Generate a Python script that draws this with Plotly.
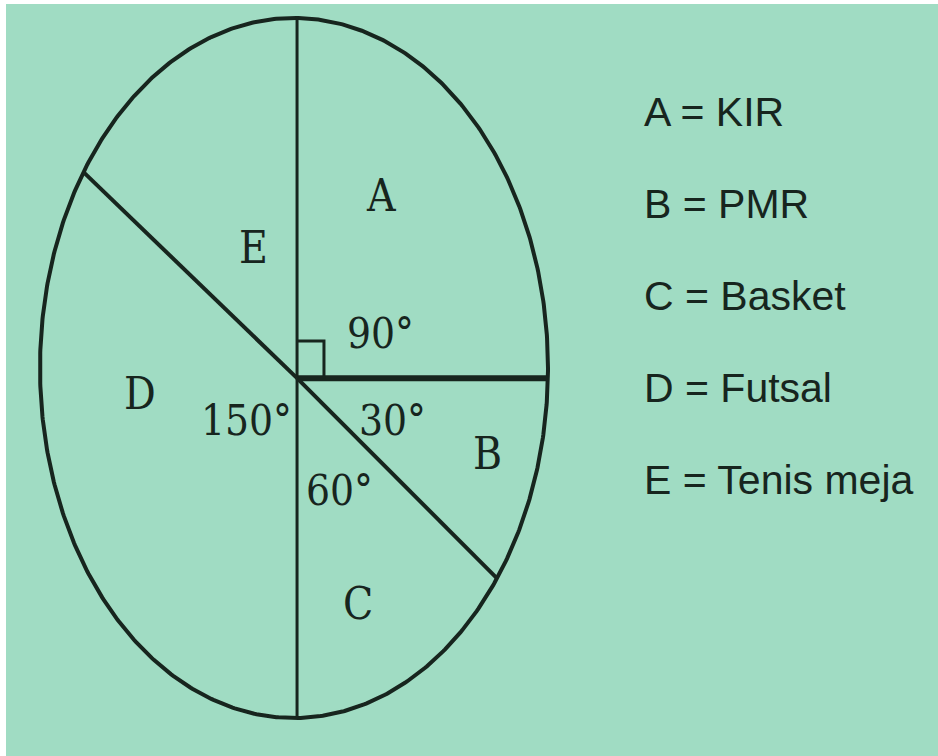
import numpy as np
import plotly.graph_objects as go

# ---------------- data ----------------
categories = ["A", "B", "C", "D", "E"]
activities = ["KIR", "PMR", "Basket", "Futsal", "Tenis meja"]
angle_labels = ["90°", "30°", "60°", "150°", ""]
# sweep of each slice as it is drawn in the picture (clockwise, starting at 12 o'clock)
drawn_sweep_deg = [90, 36, 54, 125, 55]
start_deg = 90

# ---------------- styling / layout ----------------
BG = "#a0dcc3"
INK = "#17251e"
W, H = 938, 756
ML, MT = 6, 4                       # thin white frame at left / top
# ellipse geometry in pixels (the unit circle of the data space)
ECX, ECY, RX, RY = 294, 368, 254, 350
# the point where the slice lines meet, relative to ellipse centre (unit space)
centre = np.array([0.012, -0.029])

x_range = [-(ECX - ML) / RX, (W - ECX) / RX]
y_range = [-(H - ECY) / RY, (ECY - MT) / RY]

# label placement: (angle in degrees, radius as fraction of ellipse)
letter_pos = [(55, 0.60), (-17.7, 0.80), (-69.4, 0.72), (186.8, 0.61), (114.6, 0.38)]
angle_label_pos = [(16.4, 0.353), (-20.9, 0.417), (-62.6, 0.393), (218.9, 0.238), None]
line_widths = [3, 6, 4, 3, 4]

fig = go.Figure()

# outline (ellipse via unequal axis scaling)
t = np.linspace(0, 2 * np.pi, 721)
fig.add_trace(go.Scatter(x=np.cos(t), y=np.sin(t), mode="lines",
                         line=dict(color=INK, width=4), hoverinfo="skip",
                         showlegend=False))

# slice boundaries
bounds = start_deg - np.concatenate([[0], np.cumsum(drawn_sweep_deg)])
for b, lw in zip(bounds[:-1], line_widths):
    d = np.array([np.cos(np.radians(b)), np.sin(np.radians(b))])
    cd = centre @ d
    tt = -cd + np.sqrt(cd ** 2 - (centre @ centre - 1))
    end = centre + tt * d
    fig.add_trace(go.Scatter(x=[centre[0], end[0]], y=[centre[1], end[1]],
                             mode="lines", line=dict(color=INK, width=lw),
                             hoverinfo="skip", showlegend=False))

# right-angle marker in slice A
s = 0.106
fig.add_trace(go.Scatter(x=[centre[0], centre[0] + s, centre[0] + s],
                         y=[centre[1] + s, centre[1] + s, centre[1]],
                         mode="lines", line=dict(color=INK, width=3),
                         hoverinfo="skip", showlegend=False))

serif = "DejaVu Serif Condensed, Liberation Serif, serif"
sans = "Liberation Sans, Arial, sans-serif"

annotations = []
for cat, (a, r) in zip(categories, letter_pos):
    annotations.append(dict(x=r * np.cos(np.radians(a)), y=r * np.sin(np.radians(a)),
                            xref="x", yref="y", text=cat, showarrow=False,
                            font=dict(family=serif, size=44, color=INK)))
for lab, p in zip(angle_labels, angle_label_pos):
    if not lab or p is None:
        continue
    a, r = p
    annotations.append(dict(x=r * np.cos(np.radians(a)), y=r * np.sin(np.radians(a)),
                            xref="x", yref="y", text=lab, showarrow=False,
                            font=dict(family=serif, size=42, color=INK)))

# key on the right
key_x = (642 - ML) / (W - ML)
key_top = (H - 112) / (H - MT)
key_step = 0.1225
for i, (cat, act) in enumerate(zip(categories, activities)):
    annotations.append(dict(x=key_x, y=key_top - i * key_step, xref="paper", yref="paper",
                            xanchor="left", yanchor="middle", text=f"{cat} = {act}",
                            showarrow=False,
                            font=dict(family=sans, size=41, color=INK)))

fig.update_layout(
    width=W, height=H,
    margin=dict(l=ML, r=0, t=MT, b=0),
    paper_bgcolor="white", plot_bgcolor=BG,
    xaxis=dict(range=x_range, visible=False, fixedrange=True),
    yaxis=dict(range=y_range, visible=False, fixedrange=True),
    annotations=annotations,
    showlegend=False,
)

fig.write_html("out.html", config={"displayModeBar": False},
               post_script="document.body.style.margin='0';")
